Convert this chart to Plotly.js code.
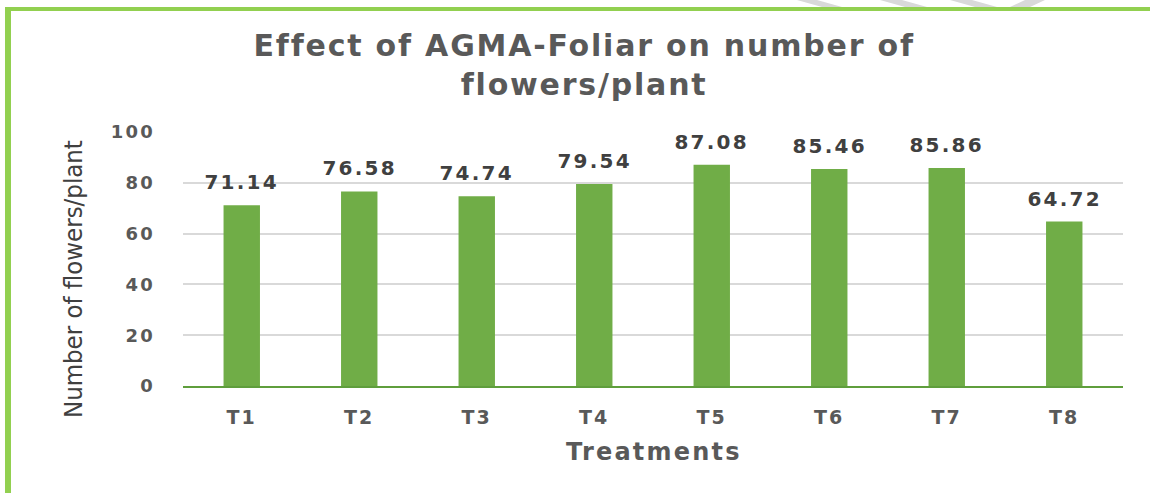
<!DOCTYPE html>
<html>
<head>
<meta charset="utf-8">
<script src="https://cdn.plot.ly/plotly-3.0.1.min.js"></script>
<style>
html,body{margin:0;padding:0;background:#fff;}
#chart{width:1150px;height:493px;}
#chart text{letter-spacing:2.2px;}
#chart text[data-unformatted^="Effect"]{letter-spacing:1.8px;}
#chart text[data-unformatted^="Number"]{letter-spacing:0;}
</style>
</head>
<body>
<div id="chart"></div>
<script>
const categories = ["T1","T2","T3","T4","T5","T6","T7","T8"];
const flowers = [71.14, 76.58, 74.74, 79.54, 87.08, 85.46, 85.86, 64.72];
const yTicks = [0, 20, 40, 60, 80, 100];
const chartTitle = 'Effect of AGMA-Foliar on number of<br>flowers/plant';
const xTitle = 'Treatments';
const yTitle = 'Number of flowers/plant';

const W = 1150, H = 493, ML = 183, MR = 27, MT = 132, MB = 107;
const PW = W - ML - MR, PH = H - MT - MB;
const px = v => (v - ML) / PW;
const py = v => (H - MB - v) / PH;

const green = '#70ad47';
const txt = '#595959';
const boldFont = 'DejaVu Sans';

const trace = {
  type: 'bar',
  x: categories,
  y: flowers,
  width: 0.31,
  marker: {color: green},
  hoverinfo: 'none'
};

const valueLabels = categories.map((c, i) => ({
  x: c, y: flowers[i], xref: 'x', yref: 'y',
  text: flowers[i].toFixed(2),
  showarrow: false, xanchor: 'center', yanchor: 'middle', yshift: 23,
  font: {family: boldFont, size: 20, color: '#404040', weight: 'bold'}
}));

function stroke(x0, x1, y0, y1, w) {
  return {type: 'path', xref: 'paper', yref: 'paper', layer: 'below',
    path: `M ${px(x0)} ${py(y0)} L ${px(x0 + w)} ${py(y0)} L ${px(x1 + w)} ${py(y1)} L ${px(x1)} ${py(y1)} Z`,
    fillcolor: '#d9d9d9', line: {width: 0}};
}

const layout = {
  width: W, height: H,
  margin: {l: ML, r: MR, t: MT, b: MB},
  paper_bgcolor: '#ffffff',
  plot_bgcolor: 'rgba(0,0,0,0)',
  showlegend: false,
  xaxis: {
    type: 'category',
    showgrid: false,
    showline: true, linecolor: '#5f9e3c', linewidth: 2,
    ticks: '',
    tickfont: {family: boldFont, size: 19, color: txt, weight: 'bold'},
    ticklabelstandoff: 13
  },
  yaxis: {
    range: [0, 100],
    tickvals: yTicks,
    showgrid: true, gridcolor: '#d9d9d9', gridwidth: 2,
    zeroline: false,
    showline: false,
    ticks: '',
    tickfont: {family: boldFont, size: 18, color: txt, weight: 'bold'},
    ticklabelstandoff: 27
  },
  annotations: [
    {text: chartTitle, xref: 'paper', yref: 'paper', x: px(584), y: py(65),
     xanchor: 'center', yanchor: 'middle', showarrow: false,
     font: {family: boldFont, size: 30, color: txt, weight: 'bold'}},
    {text: xTitle, xref: 'paper', yref: 'paper', x: px(654), y: py(452),
     xanchor: 'center', yanchor: 'middle', showarrow: false,
     font: {family: boldFont, size: 24, color: txt, weight: 'bold'}},
    {text: yTitle, xref: 'paper', yref: 'paper', x: px(73), y: py(279),
     xanchor: 'center', yanchor: 'middle', showarrow: false, textangle: -90,
     font: {family: 'Liberation Sans Narrow, DejaVu Sans Condensed', size: 25.5, color: '#404040'}}
  ].concat(valueLabels),
  shapes: [
    {type: 'rect', xref: 'paper', yref: 'paper', x0: px(5), x1: px(11), y0: py(7), y1: py(H + 5), fillcolor: '#92d050', line: {width: 0}},
    {type: 'rect', xref: 'paper', yref: 'paper', x0: px(5), x1: px(W + 5), y0: py(7), y1: py(11), fillcolor: '#92d050', line: {width: 0}},
    stroke(797, 822, 0, 7, 20),
    stroke(880, 905, 0, 7, 22),
    stroke(950, 975, 0, 7, 22),
    stroke(1025, 1010, 0, 7, 20)
  ]
};

Plotly.newPlot('chart', [trace], layout, {displayModeBar: false, staticPlot: true});
</script>
</body>
</html>
